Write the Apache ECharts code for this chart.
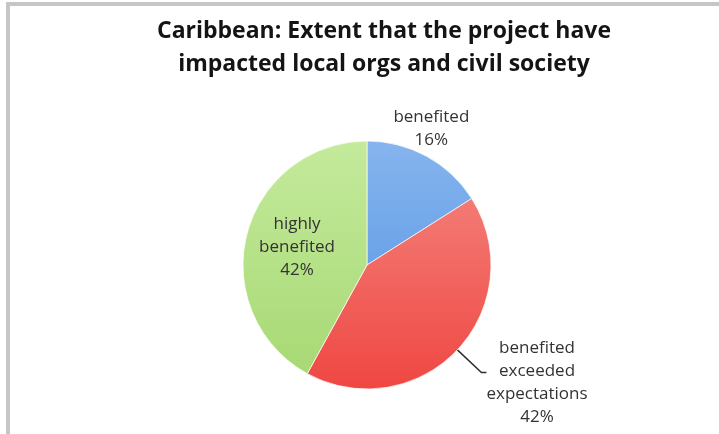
<!DOCTYPE html>
<html>
<head>
<meta charset="utf-8">
<title>Caribbean: project impact on local orgs and civil society</title>
<script src="https://cdn.jsdelivr.net/npm/echarts@6/dist/echarts.min.js"></script>
<style>
  html, body { margin: 0; padding: 0; background: #ffffff; }
  #chart { width: 719px; height: 434px; }
</style>
</head>
<body>
<div id="chart"></div>
<script>
// Survey answers and their shares (percent)
const categories = ['benefited', 'benefited\nexceeded\nexpectations', 'highly\nbenefited'];
const shares = [16, 42, 42];
const titleLines = ['Caribbean: Extent that the project have', 'impacted local orgs and civil society'];

// Slice fills: slightly lighter at the top of the pie, deeper towards the bottom
const PIE_CX = 367, PIE_CY = 265, PIE_R = 124;
function vGrad(top, bottom) {
  return {
    type: 'linear', global: true,
    x: 0, y: PIE_CY - PIE_R, x2: 0, y2: PIE_CY + PIE_R,
    colorStops: [{ offset: 0, color: top }, { offset: 1, color: bottom }]
  };
}
const fills = [
  vGrad('#86b4ee', '#4e92e2'),
  vGrad('#f58a84', '#ef4742'),
  vGrad('#c4ea9c', '#a6d872')
];

const labelFont = {
  fontFamily: '"Open Sans", "DejaVu Sans", sans-serif',
  fontSize: 17,
  lineHeight: 23,
  color: '#333333'
};

// Each line of a label is centred within the label block
function centredLines(text) {
  return text.split('\n').map(function (s) { return '{c|' + s + '}'; }).join('\n');
}

const seriesData = categories.map(function (name, i) {
  const item = { name: name, value: shares[i], itemStyle: { color: fills[i] } };
  if (i === 0) {
    item.labelLine = { show: false };
  } else if (i === 2) {
    item.label = { position: 'inside' };
  } else {
    item.label = { padding: [20, 0, 0, 0] };
  }
  return item;
});

const chart = echarts.init(document.getElementById('chart'), null, { renderer: 'canvas' });
chart.setOption({
  backgroundColor: '#ffffff',
  animation: false,
  title: {
    text: titleLines.join('\n'),
    left: 384,
    top: 15,
    padding: 0,
    textAlign: 'center',
    textStyle: {
      fontFamily: '"Open Sans", "DejaVu Sans", sans-serif',
      fontWeight: 'bold',
      fontSize: 23,
      lineHeight: 33,
      color: '#141414'
    }
  },
  graphic: [{
    type: 'rect',
    silent: true,
    shape: { x: 8, y: 4, width: 900, height: 600 },
    style: { fill: 'none', stroke: '#c6c6c6', lineWidth: 4 }
  }],
  series: [{
    type: 'pie',
    center: [PIE_CX, PIE_CY],
    radius: PIE_R,
    startAngle: 90,
    clockwise: true,
    avoidLabelOverlap: false,
    itemStyle: { borderColor: 'rgba(255,255,255,0.7)', borderWidth: 1 },
    label: {
      show: true,
      position: 'outside',
      distanceToLabelLine: 0,
      formatter: function (p) { return centredLines(p.name + '\n' + p.value + '%'); },
      rich: { c: Object.assign({ align: 'center' }, labelFont) }
    },
    labelLine: {
      show: true,
      length: 33,
      length2: 5,
      lineStyle: { color: '#2e2e2e', width: 1.5 }
    },
    labelLayout: function (p) {
      if (p.dataIndex === 0) {
        // sit the label just above the top of its slice
        return {
          x: p.rect.x + p.rect.width / 2 + 12,
          y: p.rect.y + 11,
          align: 'center',
          verticalAlign: 'bottom'
        };
      }
      if (p.dataIndex === 2) {
        return { dx: -7, dy: -2 };
      }
      return {};
    },
    emphasis: { disabled: true },
    data: seriesData
  }]
});
</script>
</body>
</html>
